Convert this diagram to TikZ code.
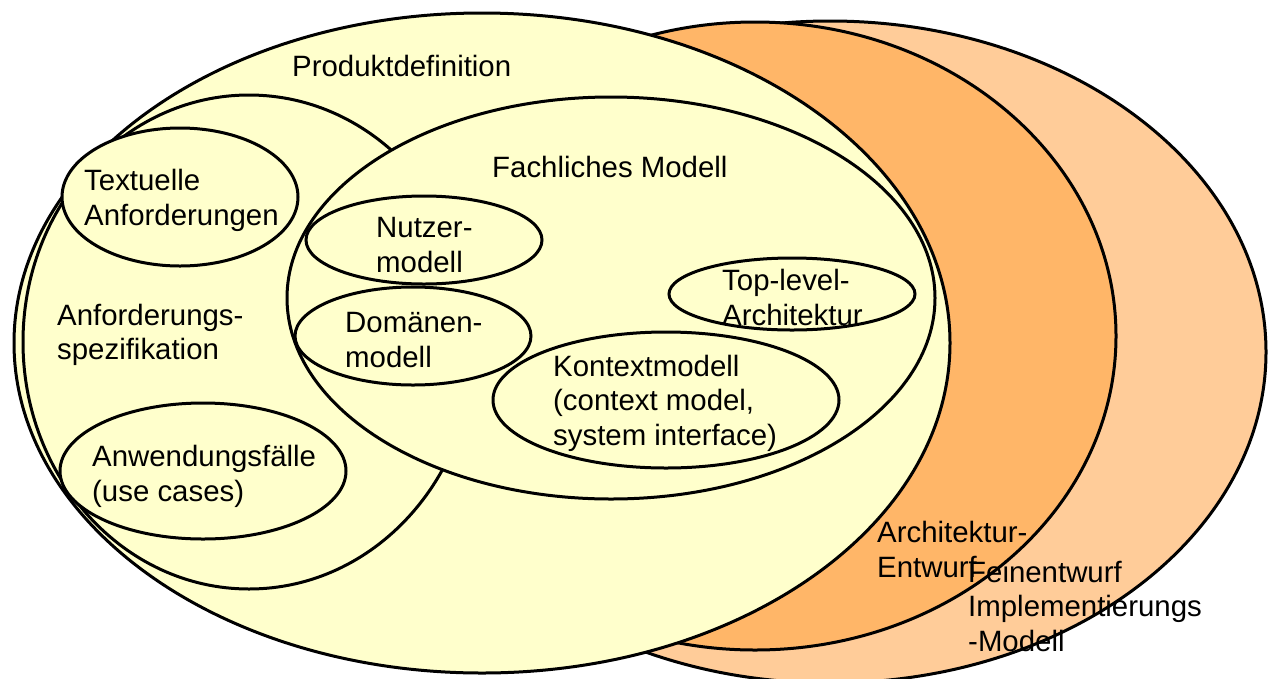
\documentclass[tikz,border=0pt]{standalone}
\usepackage{fontspec}
\setmainfont{Liberation Sans}
\usetikzlibrary{shapes.geometric}
\definecolor{cyellow}{RGB}{255,255,204}
\definecolor{corange}{RGB}{255,182,104}
\definecolor{clight}{RGB}{255,204,153}
\begin{document}
\begin{tikzpicture}[x=1pt,y=-1pt,
  oval/.style={ellipse, draw=black, line width=3pt, inner sep=0pt, outer sep=0pt},
  lbl/.style={anchor=west, inner sep=0pt, align=left, font=\fontsize{29.4pt}{34.5pt}\selectfont}]
\useasboundingbox (0,0) rectangle (1268,678);
% outer layers
\node[oval, fill=clight, minimum width=872pt, minimum height=662pt] (fein) at (830,352) {};
\node[oval, fill=corange, minimum width=722pt, minimum height=628pt] (arch) at (755,336) {};
\node[oval, fill=cyellow, minimum width=936pt, minimum height=660pt] (prod) at (482,343) {};
% requirement specification
\node[oval, fill=cyellow, minimum width=452pt, minimum height=494pt] (anf) at (249,342) {};
\node[oval, fill=cyellow, minimum width=236pt, minimum height=138pt] (textuelle) at (180,197) {};
\node[oval, fill=cyellow, minimum width=286pt, minimum height=136pt] (anwend) at (203,471) {};
% domain model
\node[oval, fill=cyellow, minimum width=648pt, minimum height=402pt] (fach) at (611,298) {};
\node[oval, fill=cyellow, minimum width=236pt, minimum height=88pt] (nutzer) at (424,240) {};
\node[oval, fill=cyellow, minimum width=236pt, minimum height=98pt] (domaenen) at (413,336) {};
\node[oval, fill=cyellow, minimum width=246pt, minimum height=72pt] (toplevel) at (792,294) {};
\node[oval, fill=cyellow, minimum width=346pt, minimum height=136pt] (kontext) at (666,400) {};
% labels
\node[lbl] (tProd) at (292,66) {Produktdefinition};
\node[lbl] (tFach) at (492,167) {Fachliches Modell};
\node[lbl] (tText) at (84,200.5) {Textuelle\\Anforderungen};
\node[lbl] (tAnf) at (57,335) {Anforderungs-\\spezifikation};
\node[lbl] (tAnw) at (92,476.5) {Anwendungsfälle\\(use cases)};
\node[lbl] (tNutz) at (376,245) {Nutzer-\\modell};
\node[lbl] (tDom) at (345,340) {Domänen-\\modell};
\node[lbl] (tTop) at (722,297.5) {Top-level-\\Architektur};
\node[lbl] (tKon) at (553,403) {Kontextmodell\\(context model,\\system interface)};
\node[lbl] (tArch) at (877,549.5) {Architektur-\\Entwurf};
\node[lbl] (tFein) at (968,606) {Feinentwurf\\Implementierungs\\-Modell};
\end{tikzpicture}
\end{document}
